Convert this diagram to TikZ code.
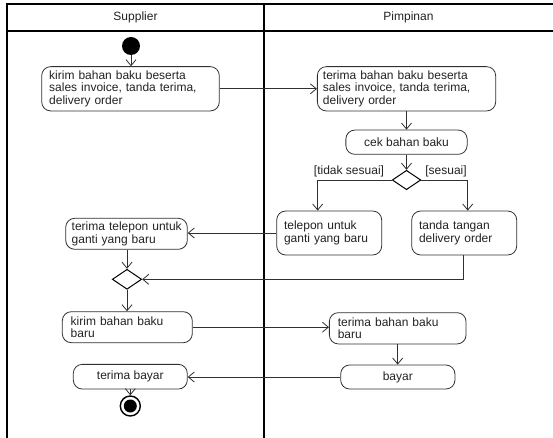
\documentclass[tikz,border=0pt]{standalone}
\usepackage{fontspec}
\setmainfont{Liberation Sans}
\usetikzlibrary{arrows.meta,shapes.geometric}
\definecolor{linec}{HTML}{303030}
\definecolor{txt}{HTML}{222222}
\newcommand{\fs}{\fontsize{12}{12.5}\selectfont\hyphenpenalty=10000\exhyphenpenalty=10000}
\tikzset{
  act/.style={draw=linec, rounded corners=9pt, line width=0.8pt, inner ysep=1pt, font=\fs, text=txt, align=left},
  actc/.style={draw=linec, rounded corners=9pt, line width=0.8pt, inner sep=0pt, font=\fs, text=txt, align=center},
  dia/.style={draw=black, diamond, line width=1pt, inner sep=0pt},
  flow/.style={draw=linec, line width=0.8pt, -{Straight Barb[length=6pt,width=10pt]}},
  frame/.style={draw=black, line width=1.2pt},
  lbl/.style={font=\fs, text=txt, inner sep=0pt},
}
\begin{document}
\begin{tikzpicture}[x=1pt,y=-1pt]
\useasboundingbox (0,0) rectangle (553,438);
% swimlanes
\draw[frame] (7,438) -- (7,4) -- (553,4);
\draw[frame] (7,31) -- (553,31);
\draw[frame] (264,4) -- (264,438);
\node[lbl] (hs) at (135.5,17.5) {Supplier};
\node[lbl] (hp) at (408.5,17.5) {Pimpinan};
% nodes
\node[circle, fill=black, minimum size=18pt, inner sep=0pt] (st) at (131,46) {};
\node[act, inner xsep=7.5pt, text width=162.6pt, minimum height=44.3pt] (k1) at (130.5,88.8)
  {kirim bahan baku beserta\\sales invoice, tanda terima,\\delivery order};
\node[act, inner xsep=5.6pt, text width=167.1pt, minimum height=44.3pt] (t1) at (406.5,88.8)
  {terima bahan baku beserta\\sales invoice, tanda terima,\\delivery order};
\node[actc, minimum width=121.3pt, minimum height=24.3pt] (cek) at (406.5,142.2) {cek bahan baku};
\node[dia, minimum width=28.6pt, minimum height=19.4pt] (dec) at (406.5,180) {};
\node[act, inner xsep=7.3pt, text width=90.4pt, minimum height=44pt] (tel) at (329.2,233)
  {telepon untuk\\ganti yang baru};
\node[act, inner xsep=7.3pt, text width=90.4pt, minimum height=44pt] (tt) at (464.2,233)
  {tanda tangan\\delivery order};
\node[act, inner xsep=6pt, text width=109.6pt, minimum height=31pt] (tt2) at (126.5,233.8)
  {\mbox{terima telepon untuk}\\ganti yang baru};
\node[dia, minimum width=29.4pt, minimum height=20pt] (m) at (127,279.3) {};
\node[act, inner xsep=8.4pt, text width=113.2pt, minimum height=31pt] (kb) at (127.3,327.2)
  {kirim bahan baku\\baru};
\node[act, inner xsep=8.4pt, text width=119.9pt, minimum height=31.3pt] (tb) at (397.7,328.3)
  {terima bahan baku\\baru};
\node[actc, minimum width=114pt, minimum height=24.7pt] (ty) at (130.3,376.7) {terima bayar};
\node[actc, minimum width=114.3pt, minimum height=24pt] (by) at (397.8,377) {bayar};
\node[circle, draw=black, line width=1.4pt, minimum size=20pt, inner sep=0pt] (en) at (130.3,406) {};
\node[circle, fill=black, minimum size=13pt, inner sep=0pt] (eni) at (en.center) {};
% guards
\node[lbl] (lts) at (349,171.7) {[tidak sesuai]};
\node[lbl] (ls) at (446,171.7) {[sesuai]};
% connectors
\draw[flow] (st) -- (st |- k1.north);
\draw[flow] (k1.east) -- (t1.west);
\draw[flow] (t1.south) -- (cek.north);
\draw[flow] (cek.south) -- (dec.north);
\draw[flow] (dec.west) -| ([xshift=-11.5pt]tel.north);
\draw[flow] (dec.east) -| ([xshift=3.5pt]tt.north);
\draw[flow] (tel.west) -- (tel.west -| tt2.east);
\draw[flow] (tt2.south -| m.north) -- (m.north);
\draw[flow] ([xshift=-1pt]tt.south) |- (m.east);
\draw[flow] (m.south) -- (m.south |- kb.north);
\draw[flow] (kb.east) -- (kb.east -| tb.west);
\draw[flow] (tb.south) -- (tb.south |- by.north);
\draw[flow] (by.west) -- (by.west -| ty.east);
\draw[flow] (ty.south) -- (en.north);
\end{tikzpicture}
\end{document}
